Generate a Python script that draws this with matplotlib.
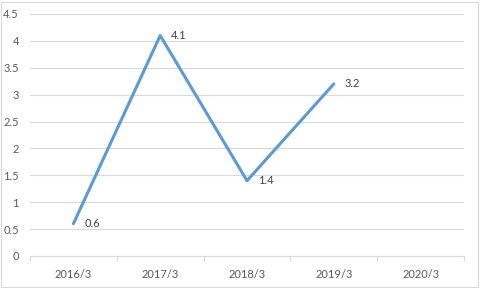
import matplotlib.pyplot as plt
from matplotlib.patches import Rectangle

categories = ["2016/3", "2017/3", "2018/3", "2019/3", "2020/3"]
values = [0.6, 4.1, 1.4, 3.2]

plt.rcParams['font.family'] = ['Lato', 'DejaVu Sans']

fig = plt.figure(figsize=(4.8, 2.88), dpi=100)
ax = fig.add_axes([30 / 480, 32 / 288, 434 / 480, 242 / 288])

xs = list(range(len(values)))
ax.plot(xs, values, color="#5B9BD5", linewidth=2.2, solid_capstyle="round", zorder=3)
for x, v in zip(xs, values):
    ax.annotate(str(v), (x, v), xytext=(8, 0), textcoords="offset points",
                va="center", ha="left", fontsize=8, color="#404040")

ax.set_xlim(-0.5, len(categories) - 0.5)
ax.set_ylim(0, 4.5)
ax.set_yticks([i * 0.5 for i in range(10)])
ax.set_yticklabels(["0", "0.5", "1", "1.5", "2", "2.5", "3", "3.5", "4", "4.5"])
ax.set_xticks(range(len(categories)))
ax.set_xticklabels(categories)
ax.set_xticks([i - 0.5 for i in range(len(categories) + 1)], minor=True)

ax.grid(axis="y", color="#D9D9D9", linewidth=0.8)
ax.set_axisbelow(True)
for s in ["top", "right", "left"]:
    ax.spines[s].set_visible(False)
ax.spines["bottom"].set_color("#D9D9D9")
ax.spines["bottom"].set_linewidth(0.8)

ax.tick_params(axis="y", length=0, pad=8, labelsize=8, labelcolor="#595959")
ax.tick_params(axis="x", which="major", length=0, pad=9, labelsize=8, labelcolor="#595959")
ax.tick_params(axis="x", which="minor", length=3.5, color="#D9D9D9", width=0.8)

fig.patches.append(Rectangle((1 / 480, 1 / 288), 477 / 480, 285 / 288, transform=fig.transFigure,
                             fill=False, edgecolor="#D9D9D9", linewidth=0.8))

fig.savefig("out.png", dpi=100)
